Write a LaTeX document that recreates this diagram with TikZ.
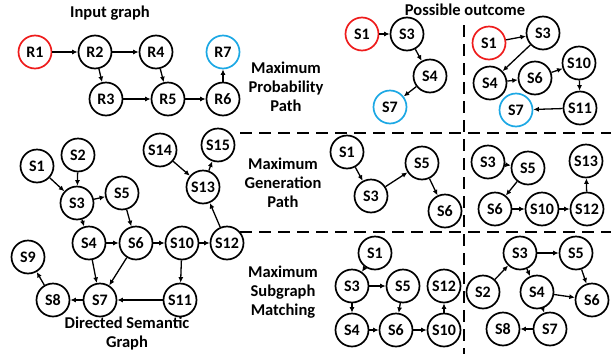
\documentclass[tikz,border=0pt]{standalone}
\usepackage{fontspec}
\setmainfont{Carlito}
\usetikzlibrary{arrows.meta}
\definecolor{startred}{HTML}{EE1C1C}
\definecolor{endblue}{HTML}{1CA8E4}
\tikzset{
  vtx/.style={circle, draw, line width=1.7pt, minimum size=33pt, inner sep=0pt,
    font=\fontsize{16}{16}\selectfont\bfseries},
  src/.style={vtx, draw=startred},
  dst/.style={vtx, draw=endblue},
  edge/.style={line width=1.3pt, -{Latex[length=5.5pt,width=5pt]}},
  lbl/.style={font=\fontsize{16.5}{19}\selectfont\bfseries, align=center},
  sep/.style={line width=1.5pt, dash pattern=on 12pt off 7pt}
}
\begin{document}
\begin{tikzpicture}[x=1pt,y=-1pt]
\useasboundingbox (0,0) rectangle (611,354);

% ---- input graph ----
\node[lbl] (tin) at (110,13) {Input graph};
\node[src] (R1) at (35,52) {R1};
\node[vtx] (R2) at (95,52) {R2};
\node[vtx] (R4) at (156,52) {R4};
\node[dst] (R7) at (223,52) {R7};
\node[vtx] (R3) at (106,99) {R3};
\node[vtx] (R5) at (168,99) {R5};
\node[vtx] (R6) at (223,99) {R6};
\draw[edge] (R1) -- (R2);
\draw[edge] (R2) -- (R4);
\draw[edge] (R2) -- (R3);
\draw[edge] (R4) -- (R5);
\draw[edge] (R3) -- (R5);
\draw[edge] (R5) -- (R6);
\draw[edge] (R6) -- (R7);

% ---- directed semantic graph ----
\node[vtx] (a1) at (37,166) {S1};
\node[vtx] (a2) at (78,155) {S2};
\node[vtx] (a3) at (77,203) {S3};
\node[vtx] (a5) at (122,193) {S5};
\node[vtx] (a4) at (89,243) {S4};
\node[vtx] (a6) at (136,243) {S6};
\node[vtx] (a10) at (182,243) {S10};
\node[vtx] (a12) at (227,243) {S12};
\node[vtx] (a13) at (203,187) {S13};
\node[vtx] (a14) at (160,150) {S14};
\node[vtx] (a15) at (218,145) {S15};
\node[vtx] (a9) at (28,257) {S9};
\node[vtx] (a8) at (53,300) {S8};
\node[vtx] (a7) at (100,300) {S7};
\node[vtx] (a11) at (180,300) {S11};
\draw[edge] (a1) -- (a3);
\draw[edge] (a2) -- (a3);
\draw[edge] (a3) -- (a5);
\draw[edge] (a3) -- (a4);
\draw[edge] (a5) -- (a6);
\draw[edge] (a4) -- (a6);
\draw[edge] (a4) -- (a7);
\draw[edge] (a6) -- (a7);
\draw[edge] (a6) -- (a10);
\draw[edge] (a10) -- (a12);
\draw[edge] (a10) -- (a11);
\draw[edge] (a11) -- (a7);
\draw[edge] (a7) -- (a8);
\draw[edge] (a8) -- (a9);
\draw[edge] (a12) -- (a13);
\draw[edge] (a14) -- (a13);
\draw[edge] (a13) -- (a15);
\node[lbl] (tdsg) at (127,333) {Directed Semantic\\Graph};

% ---- separators ----
\coordinate (hA) at (240,133); \coordinate (hA2) at (611,133);
\coordinate (hB) at (240,232); \coordinate (hB2) at (611,232);
\coordinate (vA) at (464,25);  \coordinate (vA2) at (464,354);
\draw[sep] (hA) -- (hA2);
\draw[sep] (hB) -- (hB2);
\draw[sep] (vA) -- (vA2);

% ---- row labels ----
\node[lbl] (tout) at (465,10) {Possible outcome};
\node[lbl] (tmpp) at (286,87) {Maximum\\Probability\\Path};
\node[lbl] (tmgp) at (283,183) {Maximum\\Generation\\Path};
\node[lbl] (tmsm) at (283,292) {Maximum\\Subgraph\\Matching};

% ---- maximum probability path ----
\node[src] (p1) at (362,34) {S1};
\node[vtx] (p3) at (407,34) {S3};
\node[vtx] (p4) at (430,76) {S4};
\node[dst] (p7) at (390,107) {S7};
\draw[edge] (p1) -- (p3);
\draw[edge] (p3) -- (p4);
\draw[edge] (p4) -- (p7);

\node[src] (q1) at (489,43) {S1};
\node[vtx] (q3) at (543,33) {S3};
\node[vtx] (q4) at (490,83) {S4};
\node[vtx] (q6) at (535,78) {S6};
\node[vtx] (q10) at (579,63) {S10};
\node[vtx] (q11) at (580,108) {S11};
\node[dst] (q7) at (516,110) {S7};
\draw[edge] (q1) -- (q3);
\draw[edge] (q3) -- (q4);
\draw[edge] (q4) -- (q6);
\draw[edge] (q6) -- (q10);
\draw[edge] (q10) -- (q11);
\draw[edge] (q11) -- (q7);

% ---- maximum generation path ----
\node[vtx] (g1) at (347,152) {S1};
\node[vtx] (g3) at (371,196) {S3};
\node[vtx] (g5) at (422,163) {S5};
\node[vtx] (g6) at (445,211) {S6};
\draw[edge] (g1) -- (g3);
\draw[edge] (g3) -- (g5);
\draw[edge] (g5) -- (g6);

\node[vtx] (h3) at (488,162) {S3};
\node[vtx] (h5) at (528,168) {S5};
\node[vtx] (h13) at (586,161) {S13};
\node[vtx] (h6) at (495,209) {S6};
\node[vtx] (h10) at (542,209) {S10};
\node[vtx] (h12) at (587,209) {S12};
\draw[edge] (h3) -- (h5);
\draw[edge] (h5) -- (h6);
\draw[edge] (h6) -- (h10);
\draw[edge] (h10) -- (h12);
\draw[edge] (h12) -- (h13);

% ---- maximum subgraph matching ----
\node[vtx] (m1) at (375,253) {S1};
\node[vtx] (m3) at (352,286) {S3};
\node[vtx] (m5) at (403,286) {S5};
\node[vtx] (m12) at (444,286) {S12};
\node[vtx] (m4) at (352,330) {S4};
\node[vtx] (m6) at (396,330) {S6};
\node[vtx] (m10) at (444,330) {S10};
\draw[edge] (m1) -- (m3);
\draw[edge] (m3) -- (m5);
\draw[edge] (m3) -- (m4);
\draw[edge] (m5) -- (m6);
\draw[edge] (m4) -- (m6);
\draw[edge] (m6) -- (m10);
\draw[edge] (m10) -- (m12);

\node[vtx] (n3) at (520,253) {S3};
\node[vtx] (n5) at (576,253) {S5};
\node[vtx] (n2) at (483,292) {S2};
\node[vtx] (n4) at (537,292) {S4};
\node[vtx] (n6) at (592,300) {S6};
\node[vtx] (n8) at (503,329) {S8};
\node[vtx] (n7) at (550,329) {S7};
\draw[edge] (n2) -- (n3);
\draw[edge] (n3) -- (n5);
\draw[edge] (n3) -- (n4);
\draw[edge] (n5) -- (n6);
\draw[edge] (n4) -- (n6);
\draw[edge] (n4) -- (n7);
\draw[edge] (n7) -- (n8);
\end{tikzpicture}
\end{document}
